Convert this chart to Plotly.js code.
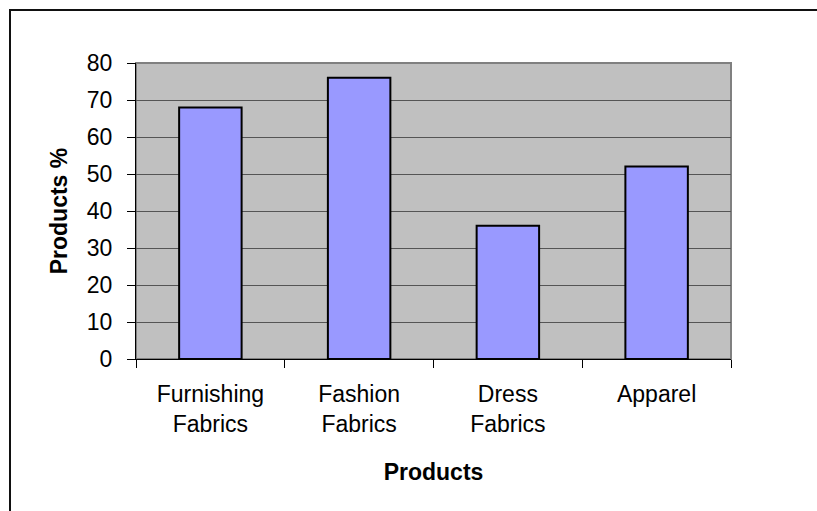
<!DOCTYPE html>
<html>
<head>
<meta charset="utf-8">
<script src="https://cdn.plot.ly/plotly-3.0.1.min.js"></script>
<style>
  html, body { margin: 0; padding: 0; background: #fff; overflow: hidden; width: 817px; height: 511px; }
  #hline { position: absolute; left: 9px; top: 9px; width: 808px; height: 2px; background: #111; }
  #vline { position: absolute; left: 9px; top: 9px; width: 2px; height: 502px; background: #111; }
  #chart { position: absolute; left: 0; top: 0; width: 817px; height: 511px; }
</style>
</head>
<body>
<div id="hline"></div>
<div id="vline"></div>
<div id="chart"></div>
<script>
const categories = ["Furnishing<br>Fabrics", "Fashion<br>Fabrics", "Dress<br>Fabrics", "Apparel"];
const values = [68, 76, 36, 52];
const yTicks = [0, 10, 20, 30, 40, 50, 60, 70, 80];

const trace = {
  type: 'bar',
  x: categories,
  y: values,
  width: 0.42,
  marker: { color: '#9999FF', line: { color: '#000000', width: 2 } },
  hoverinfo: 'skip'
};

const layout = {
  width: 817, height: 511,
  margin: { l: 136, r: 86, t: 63, b: 152 },
  paper_bgcolor: 'rgba(0,0,0,0)',
  plot_bgcolor: '#C0C0C0',
  showlegend: false,
  font: { family: 'Liberation Sans, Arial, sans-serif', color: '#000' },
  xaxis: {
    type: 'category',
    tickson: 'boundaries',
    ticks: 'outside', ticklen: 8, tickcolor: '#000', tickwidth: 1,
    showgrid: false,
    showline: true, linecolor: '#000', linewidth: 1,
    tickfont: { size: 23 },
    ticklabelstandoff: 14,
    title: { text: 'Products', font: { size: 23, family: 'Liberation Sans, Arial, sans-serif', weight: 'bold' }, standoff: 28 }
  },
  yaxis: {
    range: [0, 80],
    tickvals: yTicks,
    ticktext: yTicks.map(String),
    ticks: 'outside', ticklen: 8, tickcolor: '#000', tickwidth: 1,
    showgrid: true, gridcolor: '#555555', gridwidth: 1,
    zeroline: false,
    showline: true, linecolor: '#000', linewidth: 1,
    tickfont: { size: 23 },
    ticklabelstandoff: 10,
    title: { text: 'Products %', font: { size: 23, family: 'Liberation Sans, Arial, sans-serif', weight: 'bold' }, standoff: 12 }
  },
  shapes: [{
    type: 'rect', xref: 'paper', yref: 'paper', x0: 0, x1: 1, y0: 0, y1: 1,
    line: { color: '#808080', width: 2 }, layer: 'below'
  }]
};

Plotly.newPlot('chart', [trace], layout, { staticPlot: true, displayModeBar: false });
</script>
</body>
</html>
